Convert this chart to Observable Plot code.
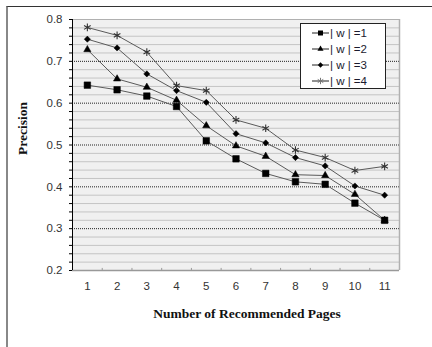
<!DOCTYPE html>
<html><head><meta charset="utf-8">
<script src="https://cdn.jsdelivr.net/npm/d3@7"></script>
<script src="https://cdn.jsdelivr.net/npm/@observablehq/plot@0.6"></script>
<style>
body{margin:0;background:#fff;}
#wrap{position:relative;width:432px;height:347px;overflow:hidden;background:#fff;}
#frame{position:absolute;left:6px;top:6px;width:450px;height:400px;border-top:1.5px solid #333;border-left:2px solid #888;box-sizing:border-box;}
#chart{position:absolute;left:0;top:0;}
#legend{position:absolute;left:300px;top:23px;width:86px;height:66px;box-sizing:border-box;border:1px solid #222;background:#fff;font-family:"Liberation Sans",Arial,sans-serif;font-size:11.5px;color:#1a1a2e;}
.row{position:absolute;left:0;height:16px;display:flex;align-items:center;}
.row svg{margin-left:11px;}
.row span{margin-left:1px;white-space:pre;}
</style></head>
<body><div id="wrap"><div id="frame"></div><div id="chart"></div><div id="legend"></div></div>
<script>
const pages = [1, 2, 3, 4, 5, 6, 7, 8, 9, 10, 11];
const seriesNames = ["| w | =1", "| w | =2", "| w | =3", "| w | =4"];
const w1 = [0.643, 0.632, 0.617, 0.592, 0.510, 0.467, 0.432, 0.412, 0.406, 0.361, 0.320];
const w2 = [0.728, 0.658, 0.638, 0.607, 0.546, 0.498, 0.473, 0.429, 0.427, 0.382, 0.320];
const w3 = [0.753, 0.732, 0.670, 0.630, 0.602, 0.527, 0.505, 0.470, 0.450, 0.402, 0.380];
const w4 = [0.781, 0.762, 0.722, 0.642, 0.630, 0.560, 0.540, 0.488, 0.470, 0.439, 0.449];
const yTicks = [0.2, 0.3, 0.4, 0.5, 0.6, 0.7, 0.8];
const symbols = ["square", "triangle", "diamond2", "asterisk"];
const symbolR = [3.7, 2.7, 2.8, 3.6];

const seriesValues = [w1, w2, w3, w4];
const data = [];
seriesValues.forEach((vals, s) => vals.forEach((v, i) => data.push({page: pages[i], value: v, series: seriesNames[s], s})));

const gridAll = d3.range(0, 31).map(i => +(0.2 + i * 0.02).toFixed(2));
const minor = gridAll.filter(v => !yTicks.some(t => Math.abs(t - v) < 1e-9));
const major = yTicks.slice(1, -1);
const bounds = pages.slice(0, -1).map(p => p + 0.5);

const dotMarks = seriesNames.map((name, s) => Plot.dot(data.filter(d => d.s === s), {
  x: "page", y: "value", symbol: symbols[s], r: symbolR[s],
  fill: s === 3 ? "none" : "#000", stroke: s === 3 ? "#333" : "#000", strokeWidth: s === 3 ? 1.1 : 0.5
}));

const chart = Plot.plot({
  width: 432, height: 347,
  marginLeft: 72, marginRight: 33, marginTop: 19, marginBottom: 77,
  style: {fontFamily: "'Liberation Sans', Arial, sans-serif", fontSize: "11.5px", background: "transparent", color: "#333"},
  x: {domain: [0.5, 11.5]},
  y: {domain: [0.2, 0.8]},
  marks: [
    Plot.frame({fill: "#f0f0f0", stroke: "none"}),
    Plot.ruleY(minor, {stroke: "#c4c4c4", strokeWidth: 1}),
    Plot.ruleY(major, {stroke: "#222", strokeWidth: 1, strokeDasharray: "1,1"}),
    Plot.ruleY([0.8], {stroke: "#b0b0b0", strokeWidth: 1}),
    Plot.ruleX([11.5], {stroke: "#b0b0b0", strokeWidth: 1.5}),
    Plot.ruleY([0.2], {stroke: "#999", strokeWidth: 1.5}),
    Plot.ruleX(bounds, {y1: 0.2, y2: 0.205, stroke: "#999"}),
    Plot.ruleX([0.5], {stroke: "#000", strokeWidth: 1}),
    Plot.axisY({ticks: gridAll, tickSize: 3, tickFormat: () => "", label: null, stroke: "#000"}),
    Plot.axisY({ticks: yTicks, tickSize: 0, tickPadding: 10, tickFormat: ".1f", label: null, fill: "#333"}),
    Plot.axisX({ticks: pages, tickSize: 0, tickPadding: 11, tickFormat: d => String(d), label: null, fill: "#333"}),
    Plot.line(data, {x: "page", y: "value", z: "series", stroke: "#5a5a5a", strokeWidth: 1}),
    ...dotMarks,
    Plot.text(["Precision"], {frameAnchor: "left", dx: -50, dy: 10, rotate: -90, fontFamily: "'Liberation Serif', 'Times New Roman', serif", fontWeight: "bold", fontSize: 13.5, fill: "#111"}),
    Plot.text(["Number of Recommended Pages"], {frameAnchor: "bottom", dx: 11, dy: 47, fontFamily: "'Liberation Serif', 'Times New Roman', serif", fontWeight: "bold", fontSize: 13.5, fill: "#111"})
  ]
});
document.getElementById("chart").appendChild(chart);

// legend
const legend = d3.select("#legend");
seriesNames.forEach((name, s) => {
  const row = legend.append("div").attr("class", "row").style("top", (1 + s * 16) + "px");
  const svg = row.append("svg").attr("width", 17).attr("height", 10);
  svg.append("line").attr("x1", 0).attr("x2", 17).attr("y1", 5).attr("y2", 5).attr("stroke", "#222").attr("stroke-width", 1);
  const symType = [d3.symbolSquare, d3.symbolTriangle, d3.symbolDiamond2, d3.symbolAsterisk][s];
  const size = [25, 16, 18, 28][s];
  svg.append("path").attr("transform", "translate(8.5,5)").attr("d", d3.symbol(symType, size)())
    .attr("fill", s === 3 ? "none" : "#000").attr("stroke", s === 3 ? "#777" : "none");
  row.append("span").text(name);
});
</script>
</body></html>
